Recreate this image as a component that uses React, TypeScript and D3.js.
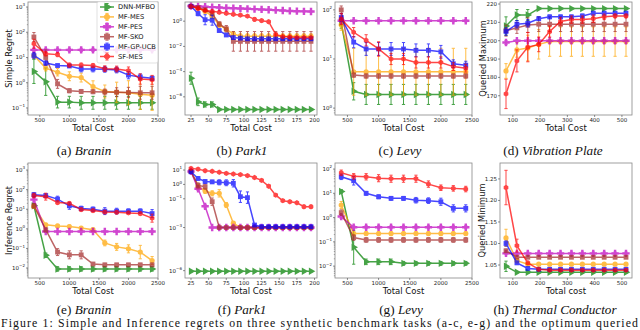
import React from 'react';
import * as d3 from 'd3';

const methods = ['DNN-MFBO', 'MF-MES', 'MF-PES', 'MF-SKO', 'MF-GP-UCB', 'SF-MES'];
const colors = ['#008000', '#ffa500', '#bf00bf', '#a52a2a', '#0000ff', '#ff0000'];
const shapes = ['tri', 'circle', 'plus', 'square', 'square', 'hex'];

const costSynth = [400, 600, 800, 1000, 1200, 1400, 1600, 1800, 2000, 2200, 2400];
const costPark = [25, 35, 45, 55, 65, 75, 85, 95, 105, 115, 125, 135, 145, 155, 165, 175, 185, 195];
const costPhys = [75, 115, 155, 195, 235, 275, 315, 355, 395, 435, 475, 515];

const synthTicks = [500, 1000, 1500, 2000, 2500];
const parkTicks = [25, 50, 75, 100, 125, 150, 175, 200];
const physTicks = [100, 200, 300, 400, 500];

// (a) Branin, simple regret
const braninSimple = [
  [2.8, 1.1, 0.17, 0.17, 0.16, 0.16, 0.16, 0.16, 0.16, 0.16, 0.16],
  [12, 3.8, 2.6, 1.8, 1.6, 0.7, 0.45, 0.42, 0.4, 0.35, 0.32],
  [20, 20, 20, 20, 20, 20, 20, 20, 20, 20, 20],
  [65, 10, 0.9, 0.48, 0.45, 0.44, 0.43, 0.42, 0.41, 0.4, 0.4],
  [12, 6, 4.8, 4.6, 3.5, 3.5, 3.4, 3.2, 2.0, 1.7, 1.5],
  [35, 14, 13, 5, 5, 4.8, 3.6, 3.5, 3.0, 1.4, 1.3],
];
const braninSimpleErr = [
  [3, 3.5, 1.7, 1.7, 1.8, 1.8, 1.8, 1.8, 1.8, 1.8, 1.8],
  [1.3, 1.3, 1.4, 1.5, 1.5, 1.7, 1.8, 2.5, 3, 4, 4],
  [1.15, 1.15, 1.15, 1.15, 1.15, 1.15, 1.15, 1.15, 1.15, 1.15, 1.15],
  [1.5, 2, 1.5, 1.2, 1.2, 1.2, 1.3, 1.5, 1.6, 1.8, 1.8],
  [1.3, 1.2, 1.15, 1.15, 1.3, 1.3, 1.3, 1.3, 1.4, 1.3, 1.2],
  [1.5, 1.2, 1.2, 1.2, 1.2, 1.2, 1.3, 1.3, 1.4, 1.6, 1.5],
];

// (b) Park1, simple regret
const parkSimple = [
  [3e-5, 4e-7, 2.5e-7, 2.5e-7, 1e-7, 1e-7, 1e-7, 1e-7, 1e-7, 1e-7, 1e-7, 1e-7, 1e-7, 1e-7, 1e-7, 1e-7, 1e-7, 1e-7],
  [15, 11, 6, 2.5, 0.5, 0.22, 0.1, 0.065, 0.065, 0.065, 0.065, 0.065, 0.065, 0.065, 0.065, 0.065, 0.065, 0.065],
  [16, 15, 14, 13, 12, 11, 10.5, 10, 9.5, 9, 8.5, 8, 7.5, 7, 6.5, 6.2, 6, 5.8],
  [15, 12, 8, 4, 0.6, 0.25, 0.025, 0.025, 0.025, 0.025, 0.025, 0.025, 0.025, 0.025, 0.025, 0.025, 0.025, 0.025],
  [15, 4, 1.3, 1.2, 0.18, 0.08, 0.05, 0.045, 0.04, 0.04, 0.04, 0.04, 0.04, 0.04, 0.04, 0.04, 0.04, 0.04],
  [15, 10, 7, 6, 5, 4.2, 3.5, 3, 2.5, 1.4, 1.1, 0.9, 0.09, 0.06, 0.055, 0.05, 0.05, 0.05],
];
const parkSimpleErr = [
  [3, 2, 1.6, 1.6, 1.1, 1.1, 1.1, 1.1, 1.1, 1.1, 1.1, 1.1, 1.1, 1.1, 1.1, 1.1, 1.1, 1.1],
  [1.1, 1.2, 1.4, 1.5, 1.5, 1.5, 1.4, 1.5, 1.5, 1.5, 1.5, 1.5, 1.5, 1.5, 1.5, 1.5, 1.5, 1.5],
  [1.1, 1.1, 1.1, 1.1, 1.1, 1.1, 1.1, 1.1, 1.1, 1.1, 1.1, 1.1, 1.1, 1.1, 1.1, 1.1, 1.1, 1.1],
  [1.1, 1.2, 1.3, 1.5, 1.5, 1.8, 6, 6, 6, 6, 6, 6, 6, 6, 6, 6, 6, 6],
  [1.1, 1.5, 2.5, 2.5, 1.3, 1.3, 1.2, 1.2, 1.2, 1.2, 1.2, 1.2, 1.2, 1.2, 1.2, 1.2, 1.2, 1.2],
  [1.1, 1.2, 1.2, 1.2, 1.2, 1.2, 1.2, 1.2, 1.2, 1.4, 1.3, 1.3, 1.3, 1.2, 1.2, 1.2, 1.2, 1.2],
];

// (c) Levy, simple regret
const levySimple = [
  [55, 2.2, 1.9, 1.9, 1.9, 1.9, 1.9, 1.9, 1.9, 1.9, 1.9],
  [50, 5.5, 5.5, 5.5, 5.5, 5.5, 5.5, 5.5, 5.5, 5.5, 5.5],
  [60, 60, 60, 60, 60, 60, 60, 60, 60, 60, 60],
  [100, 4.7, 4.5, 4.5, 4.5, 4.5, 4.5, 4.5, 4.5, 4.5, 4.5],
  [70, 22, 16, 16, 16, 16, 15, 15, 14, 8, 7.5],
  [65, 35, 24, 16, 10, 10, 8.5, 8.5, 8.5, 7, 6.5],
];
const levySimpleErr = [
  [1.3, 1.5, 1.6, 1.6, 1.6, 1.6, 1.6, 1.6, 1.6, 1.6, 1.6],
  [1.3, 3, 3, 3, 3, 3, 3, 3, 3, 3, 3],
  [1.05, 1.05, 1.05, 1.05, 1.05, 1.05, 1.05, 1.05, 1.05, 1.05, 1.05],
  [1.2, 1.1, 1.1, 1.1, 1.1, 1.1, 1.1, 1.1, 1.1, 1.1, 1.1],
  [1.2, 1.3, 1.35, 1.35, 1.35, 1.35, 1.35, 1.35, 1.35, 1.2, 1.2],
  [1.3, 1.25, 1.3, 1.4, 1.3, 1.3, 1.3, 1.3, 1.3, 1.2, 1.2],
];

// (d) Vibration Plate, queried maximum
const plateMax = [
  [208, 214, 214, 217.5, 217.5, 217.5, 217.5, 217.5, 217.5, 217.5, 217.5, 217.5],
  [183.5, 195, 196, 198, 199.5, 199.5, 199.5, 199.5, 199.5, 199.5, 199.5, 199.5],
  [199, 200, 200, 200, 200, 200, 200, 200, 200, 200, 200, 200],
  [205.5, 207, 208.5, 209, 209, 209, 209, 209, 209, 209, 209, 209],
  [205, 209, 209.5, 212, 213, 213, 213, 213.5, 215, 215, 215, 215],
  [171, 189, 196.5, 198, 205, 210.5, 211.5, 211.5, 212, 213, 213.5, 213.5],
];
const plateMaxErr = [
  [5, 3, 3, 0.5, 0.5, 0.5, 0.5, 0.5, 0.5, 0.5, 0.5, 0.5],
  [4, 4, 7, 8, 8, 8, 8, 8, 8, 8, 8, 8],
  [1, 0.5, 0.5, 0.5, 0.5, 0.5, 0.5, 0.5, 0.5, 0.5, 0.5, 0.5],
  [3, 3, 4, 4, 4, 4, 4, 4, 4, 4, 4, 4],
  [2, 2, 2, 1, 1, 1, 1, 1, 1, 1, 1, 1],
  [8, 6, 8, 4, 3, 2, 2, 2, 2, 1.5, 1, 1],
];

// (e) Branin, inference regret
const braninInfer = [
  [15, 0.045, 0.009, 0.009, 0.009, 0.009, 0.009, 0.009, 0.009, 0.009, 0.009],
  [14, 1.6, 1.4, 1.3, 1.1, 0.9, 0.19, 0.12, 0.095, 0.065, 0.024],
  [31, 0.73, 0.73, 0.73, 0.73, 0.73, 0.73, 0.73, 0.73, 0.73, 0.73],
  [15, 0.9, 0.065, 0.047, 0.047, 0.016, 0.0145, 0.0145, 0.0145, 0.0145, 0.0145],
  [55, 50, 33, 15, 11, 10, 8, 8, 8, 8, 6],
  [50, 44, 22, 20, 9.6, 8.5, 7.2, 7, 6.5, 6, 3.5],
];
const braninInferErr = [
  [1.3, 1.3, 1.3, 1.3, 1.3, 1.3, 1.3, 1.3, 1.3, 1.3, 1.3],
  [1.2, 1.2, 1.2, 1.2, 1.2, 1.2, 1.4, 1.5, 1.6, 2.2, 1.6],
  [1.2, 1.1, 1.1, 1.1, 1.1, 1.1, 1.1, 1.1, 1.1, 1.1, 1.1],
  [1.3, 1.3, 1.5, 1.6, 1.6, 1.2, 1.2, 1.2, 1.2, 1.2, 1.2],
  [1.3, 1.2, 1.4, 1.5, 1.3, 1.3, 1.5, 1.4, 1.3, 1.3, 1.6],
  [1.3, 1.5, 1.2, 1.2, 1.2, 1.2, 1.2, 1.2, 1.2, 1.2, 1.6],
];

// (f) Park1, inference regret
const parkInfer = [
  [9e-7, 9e-7, 9e-7, 9e-7, 9e-7, 9e-7, 9e-7, 9e-7, 9e-7, 9e-7, 9e-7, 9e-7, 9e-7, 9e-7, 9e-7, 9e-7, 9e-7, 9e-7],
  [8, 0.7, 0.35, 0.24, 0.24, 0.037, 0.002, 0.001, 0.001, 0.001, 0.001, 0.001, 0.001, 0.001, 0.001, 0.001, 0.001, 0.001],
  [8, 0.5, 0.03, 0.001, 0.001, 0.001, 0.001, 0.001, 0.001, 0.001, 0.001, 0.001, 0.001, 0.001, 0.001, 0.001, 0.001, 0.001],
  [8, 0.85, 0.7, 0.063, 0.001, 0.001, 0.001, 0.001, 0.001, 0.001, 0.001, 0.001, 0.001, 0.001, 0.001, 0.001, 0.001, 0.001],
  [7.6, 2.6, 1.6, 1.5, 1.4, 1.3, 1.2, 0.14, 0.12, 0.0015, 0.00115, 0.00115, 0.00115, 0.00115, 0.00115, 0.00115, 0.00115, 0.00115],
  [13, 11.6, 9, 8.2, 7, 5.9, 5.3, 4.8, 4.1, 3, 1.9, 0.75, 0.18, 0.074, 0.063, 0.053, 0.028, 0.028],
];
const parkInferErr = [
  [1.1, 1.1, 1.1, 1.1, 1.1, 1.1, 1.1, 1.1, 1.1, 1.1, 1.1, 1.1, 1.1, 1.1, 1.1, 1.1, 1.1, 1.1],
  [1.2, 1.5, 1.5, 1.5, 1.8, 1.5, 1.3, 1.1, 1.1, 1.1, 1.1, 1.1, 1.1, 1.1, 1.1, 1.1, 1.1, 1.1],
  [1.2, 1.3, 1.3, 1.1, 1.1, 1.1, 1.1, 1.1, 1.1, 1.1, 1.1, 1.1, 1.1, 1.1, 1.1, 1.1, 1.1, 1.1],
  [1.2, 1.5, 1.5, 1.8, 1.1, 1.1, 1.1, 1.1, 1.1, 1.1, 1.1, 1.1, 1.1, 1.1, 1.1, 1.1, 1.1, 1.1],
  [1.2, 1.3, 1.3, 1.3, 1.5, 1.6, 1.8, 2.5, 2.5, 1.2, 1.1, 1.1, 1.1, 1.1, 1.1, 1.1, 1.1, 1.1],
  [1.1, 1.1, 1.1, 1.1, 1.1, 1.1, 1.1, 1.1, 1.1, 1.1, 1.2, 1.2, 1.2, 1.2, 1.2, 1.2, 1.3, 1.3],
];

// (g) Levy, inference regret
const levyInfer = [
  [12, 0.06, 0.015, 0.015, 0.015, 0.013, 0.013, 0.013, 0.013, 0.013, 0.013],
  [3.3, 0.22, 0.22, 0.22, 0.22, 0.22, 0.22, 0.22, 0.22, 0.22, 0.22],
  [1.1, 0.4, 0.4, 0.4, 0.4, 0.4, 0.4, 0.4, 0.4, 0.4, 0.4],
  [1.6, 0.15, 0.12, 0.12, 0.12, 0.12, 0.12, 0.12, 0.12, 0.12, 0.12],
  [48, 33, 10, 7.2, 6.2, 6.2, 5.2, 5, 4.5, 2.4, 2.4],
  [70, 50, 48, 42, 40, 40, 40, 24, 17, 16, 15],
];
const levyInferErr = [
  [1.2, 5, 1.3, 1.3, 1.3, 1.2, 1.2, 1.2, 1.2, 1.2, 1.2],
  [1.4, 1.2, 1.2, 1.2, 1.2, 1.2, 1.2, 1.2, 1.2, 1.2, 1.2],
  [1.2, 1.15, 1.15, 1.15, 1.15, 1.15, 1.15, 1.15, 1.15, 1.15, 1.15],
  [1.3, 1.3, 1.25, 1.25, 1.25, 1.25, 1.25, 1.25, 1.25, 1.25, 1.25],
  [1.3, 1.5, 1.2, 1.2, 1.2, 1.2, 1.3, 1.3, 1.4, 1.4, 1.4],
  [1.3, 1.3, 1.35, 1.4, 1.4, 1.4, 1.4, 1.35, 1.3, 1.3, 1.3],
];

// (h) Thermal Conductor, queried minimum
const thermalMin = [
  [1.047, 1.033, 1.033, 1.033, 1.033, 1.033, 1.033, 1.033, 1.033, 1.033, 1.033, 1.033],
  [1.113, 1.06, 1.052, 1.052, 1.052, 1.052, 1.052, 1.052, 1.052, 1.052, 1.052, 1.052],
  [1.077, 1.077, 1.077, 1.077, 1.077, 1.077, 1.077, 1.077, 1.077, 1.077, 1.077, 1.077],
  [1.083, 1.068, 1.068, 1.068, 1.068, 1.068, 1.068, 1.068, 1.068, 1.068, 1.068, 1.068],
  [1.1, 1.055, 1.042, 1.04, 1.04, 1.04, 1.04, 1.04, 1.04, 1.04, 1.04, 1.04],
  [1.23, 1.095, 1.055, 1.04, 1.038, 1.038, 1.038, 1.038, 1.038, 1.038, 1.038, 1.038],
];
const thermalMinErr = [
  [0.012, 0.002, 0.002, 0.002, 0.002, 0.002, 0.002, 0.002, 0.002, 0.002, 0.002, 0.002],
  [0.02, 0.005, 0.002, 0.002, 0.002, 0.002, 0.002, 0.002, 0.002, 0.002, 0.002, 0.002],
  [0.003, 0.003, 0.003, 0.003, 0.003, 0.003, 0.003, 0.003, 0.003, 0.003, 0.003, 0.003],
  [0.004, 0.003, 0.003, 0.003, 0.003, 0.003, 0.003, 0.003, 0.003, 0.003, 0.003, 0.003],
  [0.006, 0.004, 0.002, 0.002, 0.002, 0.002, 0.002, 0.002, 0.002, 0.002, 0.002, 0.002],
  [0.04, 0.015, 0.004, 0.002, 0.002, 0.002, 0.002, 0.002, 0.002, 0.002, 0.002, 0.002],
];

const SANS = 'DejaVu Sans';
const SERIF = 'Liberation Serif';

const hexPath = d3.range(6).map((k) => {
  const a = (Math.PI / 3) * k + Math.PI / 6;
  return [2.7 * Math.cos(a), 2.7 * Math.sin(a)];
});

function Marker({ shape, cx, cy, color }: { shape: string; cx: number; cy: number; color: string }) {
  if (shape === 'tri')
    return <path d={d3.symbol(d3.symbolTriangle, 24)() as string} transform={`translate(${cx},${cy}) rotate(90)`} fill={color} />;
  if (shape === 'circle') return <circle cx={cx} cy={cy} r={2.6} fill={color} />;
  if (shape === 'plus')
    return <path d={d3.symbol(d3.symbolCross, 30)() as string} transform={`translate(${cx},${cy})`} fill={color} />;
  if (shape === 'square') return <rect x={cx - 2.4} y={cy - 2.4} width={4.8} height={4.8} fill={color} />;
  return <path d={'M' + hexPath.join('L') + 'Z'} transform={`translate(${cx},${cy})`} fill={color} />;
}

function LogLabel({ x, y, v }: { x: number; y: number; v: number }) {
  const e = Math.round(Math.log10(v));
  return (
    <text x={x} y={y} textAnchor="end" fontSize={5.5} fontFamily={SANS} fill="#222">
      10<tspan dy={-2.6} fontSize={4}>{e < 0 ? '\u2212' + -e : String(e)}</tspan>
    </text>
  );
}

type PanelProps = {
  id: string;
  box: number[];
  xDom: number[];
  yDom: number[];
  log: boolean;
  xs: number[];
  vals: number[][];
  errs: number[][];
  xTicks: number[];
  yTicks: number[];
  yFmt?: (v: number) => string;
  minor?: boolean;
  xLabel: string;
  yLabel?: string;
  yLabelX?: number;
  tag: string;
  name: string;
  capX: number;
  capY: number;
  legend?: boolean;
};

function Panel(p: PanelProps) {
  const [x0, y0, x1, y1] = p.box;
  const x = d3.scaleLinear().domain(p.xDom).range([x0, x1]);
  const y = (p.log ? d3.scaleLog() : d3.scaleLinear()).domain(p.yDom).range([y1, y0]);
  const lo = (v: number, e: number) => (p.log ? v / e : v - e);
  const hi = (v: number, e: number) => (p.log ? v * e : v + e);
  const line = d3
    .line<number>()
    .x((_, i) => x(p.xs[i]))
    .y((v) => y(v));

  const minorTicks: number[] = [];
  if (p.minor) {
    const k0 = Math.floor(Math.log10(p.yDom[0]));
    const k1 = Math.ceil(Math.log10(p.yDom[1]));
    for (let k = k0; k <= k1; k++)
      for (let m = 2; m < 10; m++) {
        const t = m * Math.pow(10, k);
        if (t > p.yDom[0] && t < p.yDom[1]) minorTicks.push(t);
      }
  }

  const yl = (y0 + y1) / 2;
  const xlY = y1 + 7;

  return (
    <g>
      <defs>
        <clipPath id={p.id}>
          <rect x={x0} y={y0} width={x1 - x0} height={y1 - y0} />
        </clipPath>
      </defs>
      <rect x={x0} y={y0} width={x1 - x0} height={y1 - y0} fill="#fff" />
      <g clipPath={`url(#${p.id})`}>
        {p.vals.map((row, si) => (
          <g key={si} opacity={0.72}>
            {row.map((v, i) => {
              const cx = x(p.xs[i]);
              const a = y(lo(v, p.errs[si][i]));
              const b = y(hi(v, p.errs[si][i]));
              return (
                <g key={i} stroke={colors[si]} strokeWidth={1}>
                  <line x1={cx} x2={cx} y1={a} y2={b} />
                  <line x1={cx - 1.6} x2={cx + 1.6} y1={a} y2={a} />
                  <line x1={cx - 1.6} x2={cx + 1.6} y1={b} y2={b} />
                </g>
              );
            })}
            <path d={line(row) as string} fill="none" stroke={colors[si]} strokeWidth={1.5} />
            {row.map((v, i) => (
              <Marker key={i} shape={shapes[si]} cx={x(p.xs[i])} cy={y(v)} color={colors[si]} />
            ))}
          </g>
        ))}
      </g>
      <rect x={x0} y={y0} width={x1 - x0} height={y1 - y0} fill="none" stroke="#888" strokeWidth={0.8} />
      {p.xTicks.map((t) => (
        <g key={t}>
          <line x1={x(t)} x2={x(t)} y1={y1} y2={y1 + 2} stroke="#444" strokeWidth={0.6} />
          <text x={x(t)} y={xlY} textAnchor="middle" fontSize={5.5} fontFamily={SANS} fill="#222">
            {t}
          </text>
        </g>
      ))}
      {minorTicks.map((t) => (
        <line key={'m' + t} x1={x0 - 1.2} x2={x0} y1={y(t)} y2={y(t)} stroke="#444" strokeWidth={0.4} />
      ))}
      {p.yTicks.map((t) => (
        <g key={t}>
          <line x1={x0 - 2} x2={x0} y1={y(t)} y2={y(t)} stroke="#444" strokeWidth={0.6} />
          {p.log ? (
            <LogLabel x={x0 - 3} y={y(t) + 2} v={t} />
          ) : (
            <text x={x0 - 3} y={y(t) + 2} textAnchor="end" fontSize={5.5} fontFamily={SANS} fill="#222">
              {p.yFmt ? p.yFmt(t) : t}
            </text>
          )}
        </g>
      ))}
      <text x={(x0 + x1) / 2} y={y1 + 15.5} textAnchor="middle" fontSize={8.5} fontFamily={SANS} fill="#111">
        {p.xLabel}
      </text>
      {p.yLabel && (
        <text
          transform={`translate(${p.yLabelX},${yl}) rotate(-90)`}
          textAnchor="middle"
          dominantBaseline="central"
          fontSize={8.3}
          fontFamily={SANS}
          fill="#111"
        >
          {p.yLabel}
        </text>
      )}
      <text x={p.capX} y={p.capY} textAnchor="middle" fontSize={13.2} fontFamily={SERIF} fill="#111">
        {p.tag + ' '}
        <tspan fontStyle="italic">{p.name}</tspan>
      </text>
      {p.legend && (
        <g>
          <rect x={97} y={1.5} width={61} height={61.5} rx={2} fill="#fff" fillOpacity={0.85} stroke="#ccc" strokeWidth={0.6} />
          {methods.map((m, i) => {
            const ly = 7 + i * 9.9;
            return (
              <g key={m}>
                <g opacity={0.72} stroke={colors[i]}>
                  <line x1={100} x2={114} y1={ly} y2={ly} strokeWidth={1.5} />
                  <line x1={107} x2={107} y1={ly - 3.5} y2={ly + 3.5} strokeWidth={1} />
                  <line x1={105.4} x2={108.6} y1={ly - 3.5} y2={ly - 3.5} strokeWidth={1} />
                  <line x1={105.4} x2={108.6} y1={ly + 3.5} y2={ly + 3.5} strokeWidth={1} />
                  <Marker shape={shapes[i]} cx={107} cy={ly} color={colors[i]} />
                </g>
                <text x={118} y={ly} dominantBaseline="central" fontSize={6.7} fontFamily={SANS} fill="#111">
                  {m}
                </text>
              </g>
            );
          })}
        </g>
      )}
    </g>
  );
}

export default function App() {
  const top = 2;
  const topB = 115;
  const bot = 163;
  const botB = 278;
  return (
    <svg width={640} height={330} style={{ position: 'absolute', left: 0, top: 0, background: '#fff' }}>
      <Panel id="pa" box={[28, top, 158, topB]} xDom={[300, 2500]} yDom={[Math.pow(10, -1.28), Math.pow(10, 3.2)]} log
        xs={costSynth} vals={braninSimple} errs={braninSimpleErr} xTicks={synthTicks} yTicks={[0.1, 1, 10, 100, 1000]} minor
        xLabel="Total Cost" yLabel="Simple Regret" yLabelX={8.5} tag="(a)" name="Branin" capX={84} capY={154.5} legend />
      <Panel id="pb" box={[185, top, 317, topB]} xDom={[16.5, 203.5]} yDom={[Math.pow(10, -7.44), Math.pow(10, 1.52)]} log
        xs={costPark} vals={parkSimple} errs={parkSimpleErr} xTicks={parkTicks} yTicks={[1e-6, 1e-4, 1e-2, 1]}
        xLabel="Total Cost" tag="(b)" name="Park1" capX={242} capY={154.5} />
      <Panel id="pc" box={[335, top, 472, topB]} xDom={[300, 2500]} yDom={[Math.pow(10, -0.14), Math.pow(10, 2.16)]} log
        xs={costSynth} vals={levySimple} errs={levySimpleErr} xTicks={synthTicks} yTicks={[1, 10, 100]} minor
        xLabel="Total Cost" tag="(c)" name="Levy" capX={400} capY={154.5} />
      <Panel id="pd" box={[500, top, 632, topB]} xDom={[53, 537]} yDom={[159.5, 221.1]} log={false}
        xs={costPhys} vals={plateMax} errs={plateMaxErr} xTicks={physTicks} yTicks={[170, 180, 190, 200, 210, 220]}
        xLabel="Total Cost" yLabel="Queried Maximum" yLabelX={483} tag="(d)" name="Vibration Plate" capX={553} capY={154.5} />

      <Panel id="pe" box={[28, bot, 158, botB]} xDom={[300, 2500]} yDom={[Math.pow(10, -2.51), Math.pow(10, 3.36)]} log
        xs={costSynth} vals={braninInfer} errs={braninInferErr} xTicks={synthTicks} yTicks={[1e-2, 1e-1, 1, 10, 100, 1000]} minor
        xLabel="Total Cost" yLabel="Inference Regret" yLabelX={8.5} tag="(e)" name="Branin" capX={84} capY={314} />
      <Panel id="pf" box={[185, bot, 317, botB]} xDom={[16.5, 203.5]} yDom={[Math.pow(10, -6.51), Math.pow(10, 1.49)]} log
        xs={costPark} vals={parkInfer} errs={parkInferErr} xTicks={parkTicks} yTicks={[1e-6, 1e-3, 1e-1, 1, 10]}
        xLabel="Total Cost" tag="(f)" name="Park1" capX={242} capY={314} />
      <Panel id="pg" box={[335, bot, 472, botB]} xDom={[300, 2500]} yDom={[Math.pow(10, -2.49), Math.pow(10, 2.25)]} log
        xs={costSynth} vals={levyInfer} errs={levyInferErr} xTicks={synthTicks} yTicks={[1e-2, 1e-1, 1, 10, 100]} minor
        xLabel="Total Cost" tag="(g)" name="Levy" capX={401} capY={314} />
      <Panel id="ph" box={[500, bot, 632, botB]} xDom={[53, 537]} yDom={[1.0198, 1.287]} log={false}
        xs={costPhys} vals={thermalMin} errs={thermalMinErr} xTicks={physTicks} yTicks={[1.05, 1.1, 1.15, 1.2, 1.25]}
        yFmt={d3.format('.2f')} xLabel="Total cost" yLabel="Queried Minimum" yLabelX={482} tag="(h)" name="Thermal Conductor"
        capX={555} capY={314} />

      <text x={1} y={327.2} fontSize={11.8} fontFamily={SERIF} fill="#111" textLength={637} lengthAdjust="spacing">
        Figure 1: Simple and Inference regrets on three synthetic benchmark tasks (a-c, e-g) and the optimum queried
      </text>
    </svg>
  );
}
